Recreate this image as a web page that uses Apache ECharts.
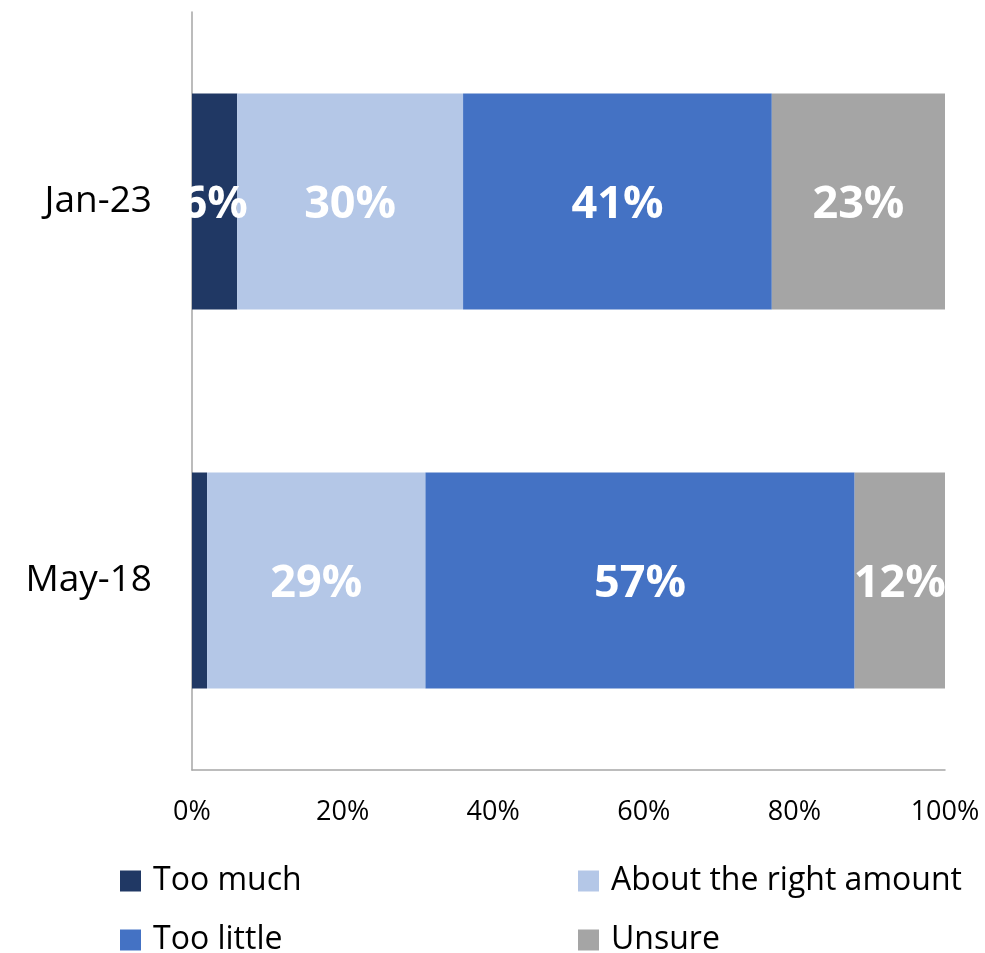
<!DOCTYPE html>
<html>
<head>
<meta charset="utf-8">
<script src="https://cdn.jsdelivr.net/npm/echarts@6/dist/echarts.min.js"></script>
<style>html,body{margin:0;padding:0;background:#fff;}#c{width:985px;height:953px;}</style>
</head>
<body>
<div id="c"></div>
<script>
const categories = ['Jan-23', 'May-18'];
const seriesNames = ['Too much', 'About the right amount', 'Too little', 'Unsure'];
const tooMuch = [6, 2];
const aboutRight = [30, 29];
const tooLittle = [41, 57];
const unsure = [23, 12];
const xTicks = [0, 20, 40, 60, 80, 100];
const colors = ['#203864', '#b4c7e7', '#4472c4', '#a5a5a5'];

const FONT = 'Open Sans';
const values = [tooMuch, aboutRight, tooLittle, unsure];

const series = seriesNames.map((name, i) => ({
  name: name,
  type: 'bar',
  stack: 'total',
  barWidth: 216,
  itemStyle: { color: colors[i] },
  label: {
    show: true,
    position: 'inside',
    offset: [0, 4],
    color: '#fff',
    fontFamily: FONT,
    fontWeight: 'bold',
    fontSize: 45,
    formatter: p => p.value + '%'
  },
  data: values[i].map((v, j) => (i === 0 && j === 1) ? { value: v, label: { show: false } } : v)
}));

const legendPos = [
  { left: 120, top: 864 },
  { left: 578, top: 864 },
  { left: 120, top: 923 },
  { left: 578, top: 923 }
];

const chart = echarts.init(document.getElementById('c'));
chart.setOption({
  animation: false,
  grid: { left: 192, right: 40, top: 12, bottom: 183, containLabel: false },
  legend: seriesNames.map((n, i) => ({
    data: [n],
    left: legendPos[i].left,
    top: legendPos[i].top,
    padding: 0,
    itemWidth: 21,
    itemHeight: 21,
    itemGap: 0,
    icon: 'rect',
    textStyle: { fontFamily: FONT, fontSize: 32, lineHeight: 34, color: '#000', padding: [0, 0, 0, 7] }
  })),
  xAxis: {
    type: 'value',
    min: 0, max: 100, interval: 20,
    axisLine: { show: true, lineStyle: { color: '#a6a6a6', width: 1.5 } },
    axisTick: { show: false },
    splitLine: { show: false },
    axisLabel: {
      margin: 29,
      fontFamily: FONT, fontSize: 27, color: '#000',
      formatter: v => xTicks.includes(v) ? v + '%' : ''
    }
  },
  yAxis: {
    type: 'category',
    data: categories,
    inverse: true,
    axisLine: { show: true, lineStyle: { color: '#a6a6a6', width: 1.5 } },
    axisTick: { show: false },
    axisLabel: { margin: 40, fontFamily: FONT, fontSize: 37, color: '#000' }
  },
  series: series
});
</script>
</body>
</html>
